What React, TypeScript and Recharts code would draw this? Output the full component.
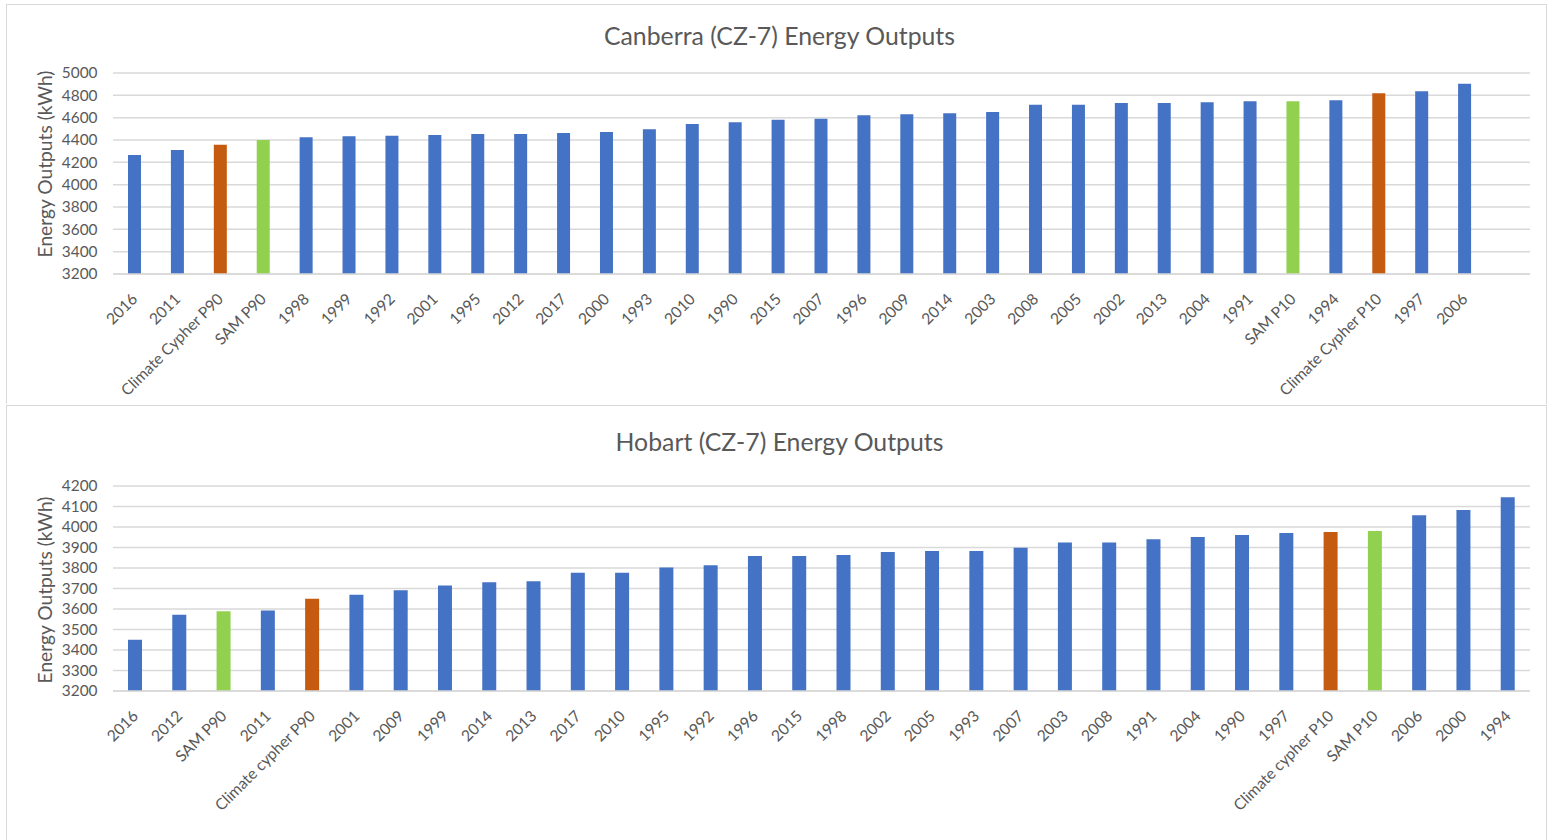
import React from 'react';
import { BarChart, Bar, XAxis, YAxis, CartesianGrid, Cell } from 'recharts';

const canberraLabels = ['2016', '2011', 'Climate Cypher P90', 'SAM P90', '1998', '1999', '1992', '2001', '1995', '2012', '2017', '2000', '1993', '2010', '1990', '2015', '2007', '1996', '2009', '2014', '2003', '2008', '2005', '2002', '2013', '2004', '1991', 'SAM P10', '1994', 'Climate Cypher P10', '1997', '2006'];
const canberraValues = [4265, 4310, 4358, 4400, 4424, 4433, 4439, 4445, 4454, 4454, 4463, 4472, 4496, 4543, 4558, 4582, 4591, 4621, 4630, 4639, 4651, 4716, 4716, 4731, 4731, 4737, 4746, 4746, 4755, 4818, 4836, 4904];
const canberraTicks = [3200, 3400, 3600, 3800, 4000, 4200, 4400, 4600, 4800, 5000];

const hobartLabels = ['2016', '2012', 'SAM P90', '2011', 'Climate cypher P90', '2001', '2009', '1999', '2014', '2013', '2017', '2010', '1995', '1992', '1996', '2015', '1998', '2002', '2005', '1993', '2007', '2003', '2008', '1991', '2004', '1990', '1997', 'Climate cypher P10', 'SAM P10', '2006', '2000', '1994'];
const hobartValues = [3450, 3572, 3589, 3593, 3650, 3670, 3691, 3715, 3730, 3735, 3777, 3777, 3803, 3813, 3858, 3858, 3863, 3878, 3883, 3883, 3899, 3925, 3925, 3940, 3951, 3961, 3971, 3976, 3980, 4057, 4083, 4145];
const hobartTicks = [3200, 3300, 3400, 3500, 3600, 3700, 3800, 3900, 4000, 4100, 4200];

const BLUE = '#4472C4';
const ORANGE = '#C55A11';
const GREEN = '#92D050';
const TEXT = '#595959';
const GRID = '#d9d9d9';
const FONT = 'Lato, "Open Sans", sans-serif';

const colorFor = (label: string) =>
  label.startsWith('Climate') ? ORANGE : label.startsWith('SAM') ? GREEN : BLUE;

const AngledTick = (props: any) => {
  const { x, y, payload } = props;
  return (
    <g transform={`translate(${x + 4},${y + 24})`}>
      <text x={0} y={0} textAnchor="end" transform="rotate(-45)" fill={TEXT} fontSize={15.6} fontFamily={FONT}>
        {payload.value}
      </text>
    </g>
  );
};

const YTick = (props: any) => {
  const { x, y, payload } = props;
  return (
    <text x={x} y={y} dy="0.35em" textAnchor="end" fill={TEXT} fontSize={15.4} fontFamily={FONT}>
      {payload.value}
    </text>
  );
};

type PanelProps = {
  title: string;
  labels: string[];
  values: number[];
  ticks: number[];
  top: number;
  height: number;
  plotTop: number;
  plotBottom: number;
  titleY: number;
  ylabelY: number;
  padRight: number;
  barSize: number;
};

const Panel = ({ title, labels, values, ticks, top, height, plotTop, plotBottom, titleY, ylabelY, padRight, barSize }: PanelProps) => {
  const data = labels.map((label, i) => ({ label, value: values[i] }));
  const contentH = height - 1;
  return (
    <div
      style={{
        position: 'absolute',
        left: 6,
        top,
        width: 1539,
        height: contentH,
        borderTop: `1px solid ${GRID}`,
        borderLeft: `1px solid ${GRID}`,
        borderRight: `1px solid ${GRID}`,
        background: '#fff',
      }}
    >
      <div
        style={{
          position: 'absolute',
          left: 0,
          width: '100%',
          top: titleY - 15,
          lineHeight: '30px',
          textAlign: 'center',
          fontFamily: FONT,
          fontSize: 24.8,
          color: TEXT,
          paddingLeft: 6,
          boxSizing: 'border-box',
        }}
      >
        {title}
      </div>
      <div
        style={{
          position: 'absolute',
          left: 38,
          top: ylabelY,
          transform: 'translate(-50%,-50%) rotate(-90deg)',
          whiteSpace: 'nowrap',
          fontFamily: FONT,
          fontSize: 19.2,
          color: TEXT,
          lineHeight: '22px',
        }}
      >
        Energy Outputs (kWh)
      </div>
      <div style={{ position: 'absolute', left: 0, top: 0 }}>
        <BarChart
          width={1539}
          height={contentH}
          data={data}
          margin={{ top: plotTop, right: 16, bottom: 0, left: 0 }}
        >
          <CartesianGrid vertical={false} stroke={GRID} strokeWidth={1.5} />
          <XAxis
            dataKey="label"
            interval={0}
            tick={<AngledTick />}
            tickLine={false}
            tickSize={0}
            axisLine={{ stroke: GRID, strokeWidth: 1.5 }}
            height={contentH - plotBottom}
            padding={{ left: 0, right: padRight }}
          />
          <YAxis
            type="number"
            domain={[ticks[0], ticks[ticks.length - 1]]}
            ticks={ticks}
            interval={0}
            allowDataOverflow
            width={106}
            axisLine={false}
            tickLine={false}
            tickSize={0}
            tickMargin={0}
            tick={(p: any) => <YTick {...p} x={90.5} />}
          />
          <Bar dataKey="value" barSize={barSize} isAnimationActive={false}>
            {data.map((d, i) => (
              <Cell key={i} fill={colorFor(d.label)} />
            ))}
          </Bar>
        </BarChart>
      </div>
    </div>
  );
};

export default function App() {
  return (
    <div style={{ position: 'absolute', left: 0, top: 0, width: 1547, height: 840, overflow: 'hidden', background: '#fff' }}>
      <Panel
        title="Canberra (CZ-7) Energy Outputs"
        labels={canberraLabels}
        values={canberraValues}
        ticks={canberraTicks}
        top={4}
        height={400}
        plotTop={68}
        plotBottom={269}
        titleY={31}
        ylabelY={159}
        padRight={44}
        barSize={13}
      />
      <Panel
        title="Hobart (CZ-7) Energy Outputs"
        labels={hobartLabels}
        values={hobartValues}
        ticks={hobartTicks}
        top={405}
        height={440}
        plotTop={80}
        plotBottom={285}
        titleY={36}
        ylabelY={184}
        padRight={0}
        barSize={14}
      />
    </div>
  );
}
